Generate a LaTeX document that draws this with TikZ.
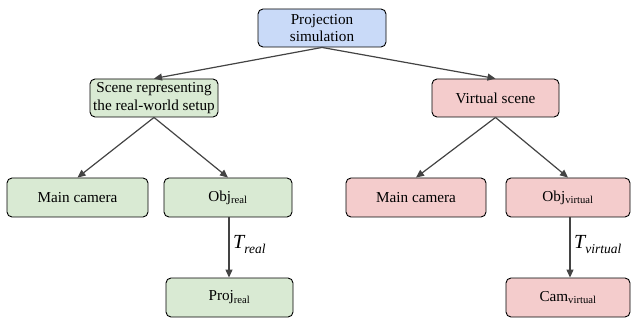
\documentclass[tikz,border=0pt]{standalone}
\usepackage{fontspec}
\setmainfont{Liberation Serif}
\usetikzlibrary{arrows.meta}
\definecolor{bluef}{HTML}{C9DAF8}
\definecolor{greenf}{HTML}{D9EAD3}
\definecolor{redf}{HTML}{F4CCCC}
\definecolor{arr}{HTML}{434343}
\newcommand{\tlabel}[1]{{\fontsize{20}{20}\selectfont\itshape T}\raisebox{-5pt}{\fontsize{13.5}{14}\selectfont\itshape #1}}
\tikzset{
  box/.style={draw=black, line width=0.9pt, rounded corners=5pt, inner sep=0pt, align=center,
    font=\fontsize{15.2}{17.5}\selectfont},
  bbox/.style={box, fill=bluef},
  gbox/.style={box, fill=greenf},
  rbox/.style={box, fill=redf},
  conn/.style={draw=arr, line width=1.2pt, -{Triangle[length=8pt,width=7pt]}},
  lbl/.style={inner sep=0pt}
}
\begin{document}
\begin{tikzpicture}[x=1pt,y=-1pt]
\useasboundingbox (0,0) rectangle (631,320);
\node[bbox, minimum width=128pt, minimum height=38pt] (proj) at (322,28) {Projection\\simulation};
\node[gbox, minimum width=128pt, minimum height=38pt] (scene) at (154,98) {Scene representing\\the real-world setup};
\node[rbox, minimum width=127pt, minimum height=38pt] (vscene) at (495.5,98) {Virtual scene};
\node[gbox, minimum width=141pt, minimum height=39pt] (mcl) at (77.5,197.5) {Main camera};
\node[gbox, minimum width=128pt, minimum height=39pt] (objr) at (228,197.5) {Obj\textsubscript{real}};
\node[gbox, minimum width=127pt, minimum height=39pt] (projr) at (229.5,297.5) {Proj\textsubscript{real}};
\node[rbox, minimum width=140pt, minimum height=39pt] (mcr) at (416,197.5) {Main camera};
\node[rbox, minimum width=124pt, minimum height=39pt] (objv) at (568,197.5) {Obj\textsubscript{virtual}};
\node[rbox, minimum width=124pt, minimum height=39pt] (camv) at (568,297.5) {Cam\textsubscript{virtual}};
\draw[conn] (proj.south) -- (scene.north);
\draw[conn] (proj.south) -- (vscene.north);
\draw[conn] (scene.south) -- (mcl.north);
\draw[conn] (scene.south) -- (objr.north);
\draw[conn] (vscene.south) -- (mcr.north);
\draw[conn] (vscene.south) -- (objv.north);
\draw[conn] (objr.south -| 229,0) -- (projr.north -| 229,0);
\draw[conn] (objv.south -| 570,0) -- (camv.north -| 570,0);
\node[lbl, anchor=base west] (tr) at (233,248) {\tlabel{real}};
\node[lbl, anchor=base west] (tv) at (574,248) {\tlabel{virtual}};
\end{tikzpicture}
\end{document}
